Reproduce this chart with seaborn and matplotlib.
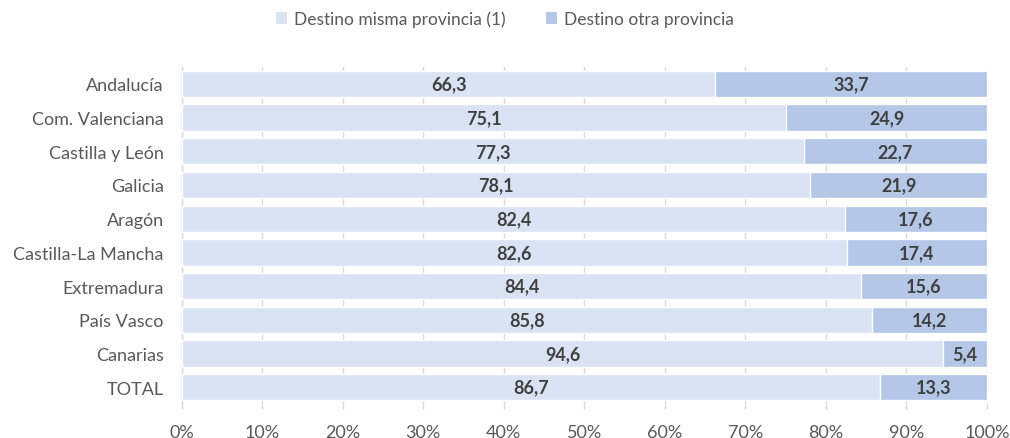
import matplotlib
matplotlib.use("Agg")
import matplotlib.pyplot as plt
import seaborn as sns
import pandas as pd
from matplotlib.ticker import FuncFormatter
from matplotlib.patches import Patch

regions = ["Andalucía", "Com. Valenciana", "Castilla y León", "Galicia", "Aragón",
           "Castilla-La Mancha", "Extremadura", "País Vasco", "Canarias", "TOTAL"]
misma = [66.3, 75.1, 77.3, 78.1, 82.4, 82.6, 84.4, 85.8, 94.6, 86.7]
otra = [33.7, 24.9, 22.7, 21.9, 17.6, 17.4, 15.6, 14.2, 5.4, 13.3]
series_names = ["Destino misma provincia (1)", "Destino otra provincia"]
xticks = [0, 10, 20, 30, 40, 50, 60, 70, 80, 90, 100]

c_light = "#DAE3F3"
c_dark = "#B4C7E7"
grid_c = "#D9D9D9"
text_c = "#404040"
tick_c = "#595959"
fs = 13

sns.set_theme(style="white")
plt.rcParams["font.family"] = ["Lato", "DejaVu Sans"]

df = pd.DataFrame({"region": regions, "misma": misma, "otra": otra})
df["total"] = df["misma"] + df["otra"]

fig = plt.figure(figsize=(10.10, 4.39), dpi=100)
ax = fig.add_axes([0.180, 0.0774, 0.797, 0.7676])

sns.barplot(data=df, y="region", x="total", color=c_dark, saturation=1, width=0.78,
            orient="h", ax=ax, zorder=2)
sns.barplot(data=df, y="region", x="misma", color=c_light, saturation=1, width=0.78,
            orient="h", ax=ax, zorder=3)

for i, (m, o) in enumerate(zip(misma, otra)):
    ax.text(m / 2, i, f"{m:.1f}".replace(".", ","), ha="center", va="center",
            fontsize=fs, fontweight="bold", color=text_c, zorder=4)
    ax.text(m + o / 2, i, f"{o:.1f}".replace(".", ","), ha="center", va="center",
            fontsize=fs, fontweight="bold", color=text_c, zorder=4)

ax.set_xlim(0, 100)
ax.set_ylim(9.5, -0.5)
ax.set_xticks(xticks)
ax.xaxis.set_major_formatter(FuncFormatter(lambda v, p: f"{int(v)}%"))
ax.set_xlabel("")
ax.set_ylabel("")
ax.xaxis.grid(True, color=grid_c, linewidth=1, zorder=0)
ax.set_axisbelow(True)
for s in ["top", "right", "bottom"]:
    ax.spines[s].set_visible(False)
ax.spines["left"].set_color(grid_c)
ax.spines["left"].set_linewidth(1)
ax.tick_params(axis="x", length=3.6, color=grid_c, width=1, labelsize=fs,
               labelcolor=tick_c, pad=10.5, bottom=True)
ax.tick_params(axis="y", length=0, labelsize=fs, labelcolor=tick_c, pad=13)

handles = [Patch(facecolor=c_light, edgecolor="none"), Patch(facecolor=c_dark, edgecolor="none")]
fig.legend(handles, series_names, loc="center", bbox_to_anchor=(0.5, 0.955), ncol=2,
           frameon=False, fontsize=12.5, labelcolor=tick_c, handlelength=0.65,
           handleheight=0.65, handletextpad=0.4, columnspacing=2.3)

fig.savefig("out.png", dpi=100)
